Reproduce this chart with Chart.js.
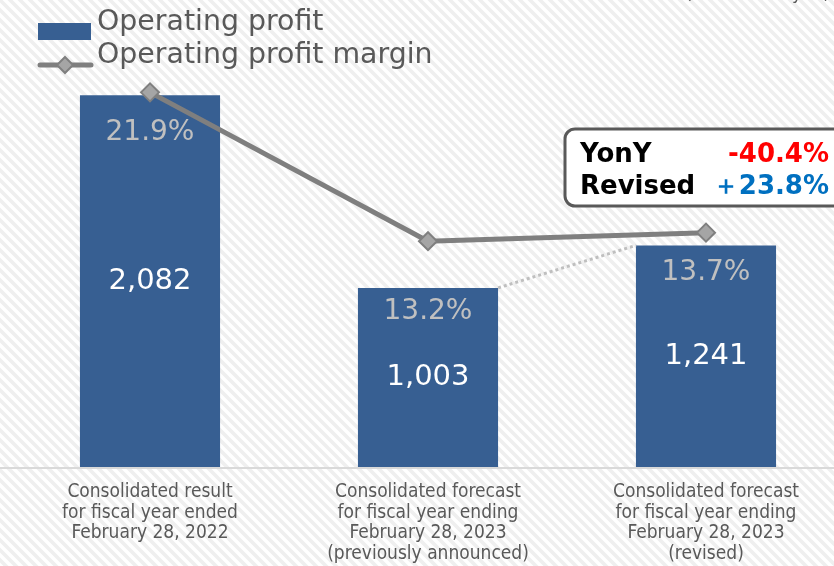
<!DOCTYPE html>
<html>
<head>
<meta charset="utf-8">
<script src="https://cdn.jsdelivr.net/npm/chart.js@4.4.1/dist/chart.umd.min.js"></script>
<style>
  html, body { margin: 0; padding: 0; overflow: hidden; background: #fff; }
  #wrap { width: 845px; height: 566px; }
</style>
</head>
<body>
<div id="wrap"><canvas id="profitChart" width="845" height="566"></canvas></div>
<script>
// Categories and values
const categories = [
  ['Consolidated result', 'for fiscal year ended', 'February 28, 2022'],
  ['Consolidated forecast', 'for fiscal year ending', 'February 28, 2023', '(previously announced)'],
  ['Consolidated forecast', 'for fiscal year ending', 'February 28, 2023', '(revised)']
];
const operatingProfit = [2082, 1003, 1241];
const profitMargin = [21.9, 13.2, 13.7];
const yonyChange = '-40.4%';
const revisedChange = '＋23.8%';

const pctOffsets = [38, 24, 27];

// striped background
function stripePattern(ctx) {
  const c = document.createElement('canvas');
  c.width = 10; c.height = 10;
  const p = c.getContext('2d');
  p.fillStyle = '#ffffff';
  p.fillRect(0, 0, 10, 10);
  p.strokeStyle = '#efefef';
  p.lineWidth = 3.6;
  p.beginPath();
  for (let k = -2; k <= 2; k++) {
    p.moveTo(k * 10 - 5, -5);
    p.lineTo(k * 10 + 15, 15);
  }
  p.stroke();
  return ctx.createPattern(c, 'repeat');
}

const decorPlugin = {
  id: 'decor',
  beforeDraw(chart) {
    const ctx = chart.ctx;
    ctx.save();
    ctx.fillStyle = stripePattern(ctx);
    ctx.fillRect(0, 0, chart.width, chart.height);
    // axis line
    ctx.strokeStyle = '#d9d9d9';
    ctx.lineWidth = 2;
    ctx.beginPath();
    ctx.moveTo(0, chart.chartArea.bottom + 1);
    ctx.lineTo(834, chart.chartArea.bottom + 1);
    ctx.stroke();
    // cut unit text at top right
    ctx.fillStyle = '#595959';
    ctx.font = '17px "DejaVu Sans"';
    ctx.textAlign = 'right';
    ctx.textBaseline = 'alphabetic';
    ctx.fillText('(100 million yen)', 830, -1);
    ctx.restore();
  },
  afterDatasetDraw(chart, args) {
    if (args.index !== 0) return;
    const ctx = chart.ctx;
    const bars = chart.getDatasetMeta(0).data;
    ctx.save();
    // dotted connector between bar 2 and bar 3
    const b1 = bars[1], b2 = bars[2];
    ctx.strokeStyle = '#bfbfbf';
    ctx.lineWidth = 3;
    ctx.setLineDash([3, 3]);
    ctx.beginPath();
    ctx.moveTo(b1.x + b1.width / 2, b1.y);
    ctx.lineTo(b2.x - b2.width / 2, b2.y);
    ctx.stroke();
    ctx.setLineDash([]);
    ctx.textAlign = 'center';
    ctx.textBaseline = 'middle';
    bars.forEach((bar, i) => {
      ctx.font = '28px "DejaVu Sans"';
      ctx.fillStyle = '#c0c0c0';
      ctx.fillText(profitMargin[i].toFixed(1) + '%', bar.x, bar.y + pctOffsets[i]);
      ctx.font = '29px "DejaVu Sans"';
      ctx.fillStyle = '#ffffff';
      ctx.fillText(operatingProfit[i].toLocaleString('en-US'), bar.x, (bar.y + bar.base) / 2);
    });
    ctx.restore();
  },
  afterDraw(chart) {
    const ctx = chart.ctx;
    ctx.save();
    // legend
    ctx.fillStyle = '#375f92';
    ctx.fillRect(38, 23, 53, 17);
    ctx.strokeStyle = '#7f7f7f';
    ctx.lineWidth = 5;
    ctx.lineCap = 'round';
    ctx.beginPath();
    ctx.moveTo(40, 65);
    ctx.lineTo(91, 65);
    ctx.stroke();
    ctx.lineCap = 'butt';
    ctx.fillStyle = '#a5a5a5';
    ctx.lineWidth = 2;
    ctx.beginPath();
    ctx.moveTo(65, 57); ctx.lineTo(73, 65); ctx.lineTo(65, 73); ctx.lineTo(57, 65);
    ctx.closePath();
    ctx.fill(); ctx.stroke();
    ctx.fillStyle = '#595959';
    ctx.font = '28.4px "DejaVu Sans"';
    ctx.textAlign = 'left';
    ctx.textBaseline = 'alphabetic';
    ctx.fillText('Operating profit', 97, 30);
    ctx.fillText('Operating profit margin', 97, 63);
    // callout box
    ctx.fillStyle = '#ffffff';
    ctx.strokeStyle = '#595959';
    ctx.lineWidth = 3;
    ctx.beginPath();
    ctx.roundRect(565, 129, 290, 77, 10);
    ctx.fill(); ctx.stroke();
    ctx.font = 'bold 26px "DejaVu Sans"';
    ctx.fillStyle = '#000000';
    ctx.fillText('YonY', 580, 162);
    ctx.fillText('Revised', 580, 194);
    ctx.textAlign = 'right';
    ctx.fillStyle = '#ff0000';
    ctx.fillText(yonyChange, 829, 162);
    ctx.fillStyle = '#0070c0';
    ctx.fillText(revisedChange, 829, 194);
    ctx.restore();
  }
};

const ctx = document.getElementById('profitChart').getContext('2d');
new Chart(ctx, {
  type: 'bar',
  data: {
    labels: categories,
    datasets: [{
      type: 'bar',
      label: 'Operating profit',
      data: operatingProfit,
      backgroundColor: '#375f92',
      barPercentage: 0.504,
      categoryPercentage: 1,
      yAxisID: 'y',
      order: 2
    }, {
      type: 'line',
      label: 'Operating profit margin',
      data: profitMargin,
      borderColor: '#7f7f7f',
      borderWidth: 5,
      pointStyle: 'rectRot',
      pointRadius: 9,
      pointBackgroundColor: '#a5a5a5',
      pointBorderColor: '#7f7f7f',
      pointBorderWidth: 2,
      yAxisID: 'y2',
      order: 1
    }]
  },
  options: {
    responsive: false,
    animation: false,
    layout: { autoPadding: false, padding: { left: 11, right: 0, top: 0, bottom: 0 } },
    plugins: { legend: { display: false }, tooltip: { enabled: false } },
    scales: {
      x: {
        grid: { display: false, drawTicks: false },
        border: { display: false },
        afterFit(scale) { scale.height = 99; },
        ticks: {
          padding: 15,
          color: '#595959',
          font: { family: '"DejaVu Sans Condensed", "DejaVu Sans"', size: 19, lineHeight: 1.08 },
          maxRotation: 0
        }
      },
      y: { display: false, min: 0, max: 2615 },
      y2: { display: false, min: 0, max: 27.3, position: 'right' }
    }
  },
  plugins: [decorPlugin]
});
</script>
</body>
</html>
